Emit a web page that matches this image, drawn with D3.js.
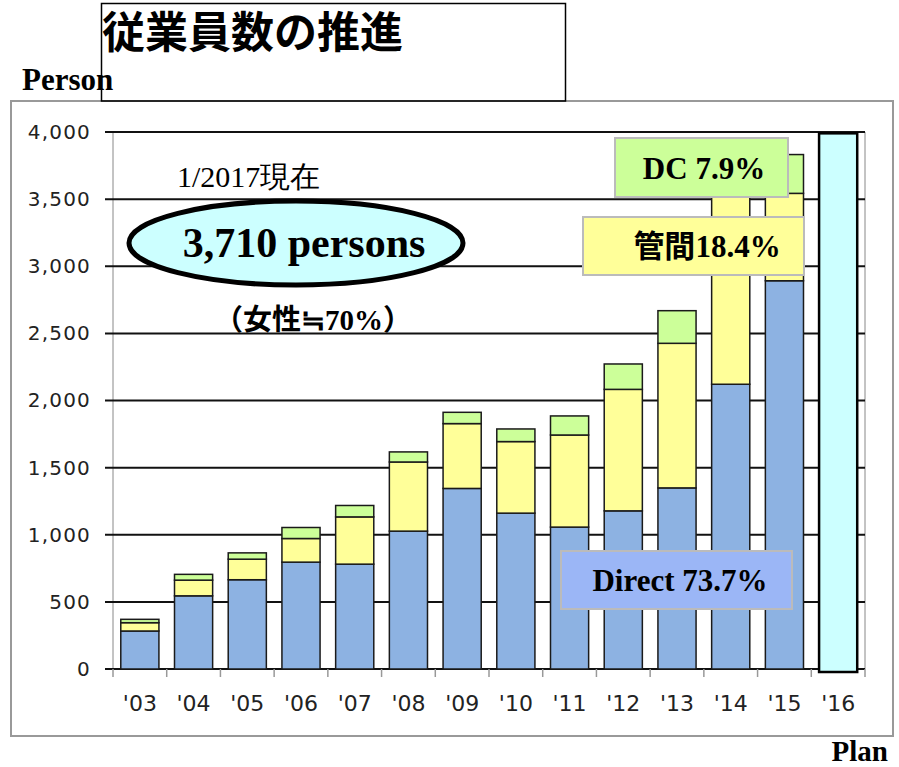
<!DOCTYPE html>
<html>
<head>
<meta charset="utf-8">
<script src="https://d3js.org/d3.v7.min.js"></script>
<style>
  body { margin: 0; background: #fff; }
  svg { display: block; }
</style>
</head>
<body>
<svg id="draw"></svg>
<script>
// data
var years = ["'03", "'04", "'05", "'06", "'07", "'08", "'09", "'10", "'11", "'12", "'13", "'14", "'15"];
var planYear = "'16";
var direct = [283, 545, 665, 796, 781, 1027, 1345, 1161, 1057, 1178, 1349, 2121, 2892];
var kanri = [62, 117, 153, 176, 352, 515, 483, 533, 686, 905, 1077, 1440, 651];
var dc = [25, 43, 47, 82, 85, 75, 84, 94, 142, 189, 243, 140, 289];
var plan = [3990];
var yTicks = [0, 500, 1000, 1500, 2000, 2500, 3000, 3500, 4000];

var W = 899, H = 767;
var margin = { top: 132, right: 34, bottom: 98, left: 113 };
var width = W - margin.left - margin.right;
var height = H - margin.top - margin.bottom;

var serif = "'Liberation Serif', 'Times New Roman', serif";
var cjk = "'Noto Sans CJK JP', sans-serif";

var root = d3.select("#draw").attr("width", W).attr("height", H);

// outer frame + title box
root.append("rect")
  .attr("x", 11).attr("y", 101).attr("width", 882).attr("height", 635)
  .attr("fill", "#fff").attr("stroke", "#999").attr("stroke-width", 2);

root.append("rect")
  .attr("x", 101.5).attr("y", 3.5).attr("width", 464).attr("height", 97.5)
  .attr("fill", "none").attr("stroke", "#000").attr("stroke-width", 1.5);

root.append("text")
  .attr("x", 102).attr("y", 48)
  .attr("font-family", cjk).attr("font-weight", "bold").attr("font-size", 43)
  .text("従業員数の推進");

root.append("text")
  .attr("x", 22).attr("y", 90)
  .attr("font-family", serif).attr("font-weight", "bold").attr("font-size", 31)
  .text("Person");

root.append("text")
  .attr("x", 888).attr("y", 761).attr("text-anchor", "end")
  .attr("font-family", serif).attr("font-weight", "bold").attr("font-size", 29)
  .text("Plan");

var svg = root.append("g")
  .attr("transform", "translate(" + margin.left + "," + margin.top + ")");

var allCats = years.concat([planYear]);

var xScale = d3.scaleBand()
  .domain(allCats)
  .range([0, width])
  .paddingInner(0.29)
  .paddingOuter(0.145);

var yScale = d3.scaleLinear()
  .domain([0, 4000])
  .range([height, 0]);

var step = xScale.step();

// side lines of the plot
svg.append("line").attr("x1", 0).attr("x2", 0).attr("y1", 0).attr("y2", height)
  .attr("stroke", "#888").attr("stroke-width", 1);
svg.append("line").attr("x1", width).attr("x2", width).attr("y1", 0).attr("y2", height)
  .attr("stroke", "#888").attr("stroke-width", 1);

// grid lines
svg.selectAll(".grid")
  .data(yTicks)
  .enter().append("line")
  .attr("class", "grid")
  .attr("x1", -8).attr("x2", width)
  .attr("y1", function(d) { return yScale(d); })
  .attr("y2", function(d) { return yScale(d); })
  .attr("stroke", "#111")
  .attr("stroke-width", 2);

// y axis labels
var yAxis = svg.append("g")
  .call(d3.axisLeft(yScale).tickValues(yTicks).tickFormat(d3.format(",")).tickSize(0).tickPadding(22));
yAxis.select(".domain").remove();
yAxis.selectAll("text")
  .attr("font-family", "'DejaVu Sans', sans-serif")
  .attr("font-size", 20)
  .attr("letter-spacing", 1.2)
  .attr("fill", "#222");

// x axis ticks at band boundaries
svg.selectAll(".xtick")
  .data(allCats.concat(["end"]))
  .enter().append("line")
  .attr("class", "xtick")
  .attr("x1", function(d, i) { return i * step; })
  .attr("x2", function(d, i) { return i * step; })
  .attr("y1", height).attr("y2", height + 8)
  .attr("stroke", "#999").attr("stroke-width", 1.5);

var xAxis = svg.append("g")
  .attr("transform", "translate(0," + height + ")")
  .call(d3.axisBottom(xScale).tickSize(0).tickPadding(26));
xAxis.select(".domain").remove();
xAxis.selectAll("text")
  .attr("font-family", "'DejaVu Sans', sans-serif")
  .attr("font-size", 22)
  .attr("fill", "#222");

// stacked bars
var rows = years.map(function(y, i) {
  return { year: y, direct: direct[i], kanri: kanri[i], dc: dc[i] };
});
var stack = d3.stack().keys(["direct", "kanri", "dc"]);
var colors = { direct: "#8db2e2", kanri: "#ffff99", dc: "#ccff99" };

svg.selectAll(".layer")
  .data(stack(rows))
  .enter().append("g")
  .attr("class", "layer")
  .attr("fill", function(d) { return colors[d.key]; })
  .selectAll("rect")
  .data(function(d) { return d; })
  .enter().append("rect")
  .attr("x", function(d) { return xScale(d.data.year); })
  .attr("y", function(d) { return yScale(d[1]); })
  .attr("width", xScale.bandwidth())
  .attr("height", function(d) { return yScale(d[0]) - yScale(d[1]); })
  .attr("stroke", "#1a1a1a")
  .attr("stroke-width", 1.5);

// plan bar
svg.selectAll(".plan")
  .data(plan)
  .enter().append("rect")
  .attr("class", "plan")
  .attr("x", xScale(planYear))
  .attr("y", function(d) { return yScale(d); })
  .attr("width", xScale.bandwidth())
  .attr("height", function(d) { return yScale(0) - yScale(d) + 3; })
  .attr("fill", "#ccffff")
  .attr("stroke", "#000")
  .attr("stroke-width", 2.5);

// annotations
root.append("text")
  .attr("x", 177).attr("y", 187)
  .attr("font-family", serif).attr("font-size", 30)
  .text("1/2017現在");

root.append("ellipse")
  .attr("cx", 296).attr("cy", 243).attr("rx", 167).attr("ry", 42)
  .attr("fill", "#ccffff").attr("stroke", "#000").attr("stroke-width", 5);

root.append("text")
  .attr("x", 304).attr("y", 257).attr("text-anchor", "middle")
  .attr("font-family", serif).attr("font-weight", "bold").attr("font-size", 42)
  .text("3,710 persons");

var fem = root.append("text")
  .attr("x", 313).attr("y", 330).attr("text-anchor", "middle")
  .attr("font-weight", "bold").attr("font-size", 29);
fem.append("tspan").attr("font-family", cjk).text("（女性≒");
fem.append("tspan").attr("font-family", serif).text("70%");
fem.append("tspan").attr("font-family", cjk).text("）");

function labelBox(x, y, w, h, fill, parts, tx, ty) {
  root.append("rect")
    .attr("x", x).attr("y", y).attr("width", w).attr("height", h)
    .attr("fill", fill).attr("stroke", "#bbb").attr("stroke-width", 2);
  var t = root.append("text")
    .attr("x", tx).attr("y", ty).attr("text-anchor", "middle")
    .attr("font-weight", "bold").attr("font-size", 31);
  parts.forEach(function(p) {
    t.append("tspan").attr("font-family", p[1] ? cjk : serif).text(p[0]);
  });
}

labelBox(615, 138, 173, 59, "#ccff99", [["DC 7.9%", false]], 704, 179);
labelBox(583, 217, 221, 58, "#ffff99", [["管間", true], ["18.4%", false]], 707, 257);
labelBox(561, 551, 231, 58, "#9bb6f6", [["Direct 73.7%", false]], 680, 591);
</script>
</body>
</html>
